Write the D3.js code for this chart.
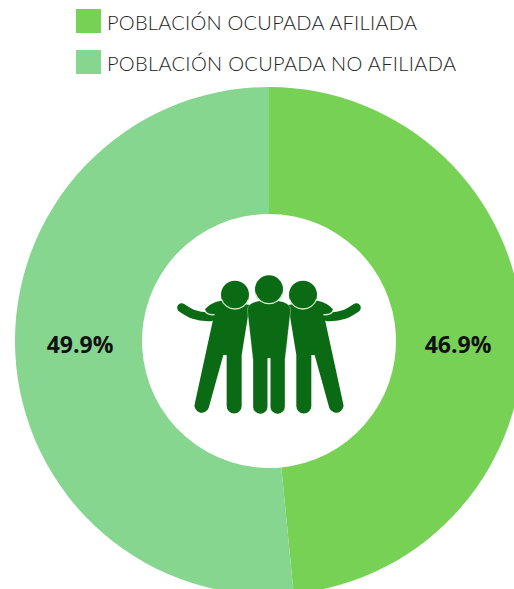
<!DOCTYPE html>
<html>
<head>
<meta charset="utf-8">
<script src="https://cdn.jsdelivr.net/npm/d3@7"></script>
<style>
  html, body { margin: 0; padding: 0; background: #fff; overflow: hidden; }
  svg { display: block; }
</style>
</head>
<body>
<div id="chart"></div>
<script>
const categories = ['POBLACIÓN OCUPADA AFILIADA', 'POBLACIÓN OCUPADA NO AFILIADA']
const values = [46.9, 49.9]
const labels = ['46.9%', '49.9%']
const colors = ['#77d155', '#86d68f']
const iconColor = '#0b6a14'

const svg = d3.select('#chart')
  .append('svg')
    .attr('width', 514)
    .attr('height', 589)

const pie = d3.pie().sort(null)
const arc = d3.arc().innerRadius(127).outerRadius(254)

const donut = svg.append('g')
  .attr('id', 'donut')
  .attr('transform', 'translate(269, 341)')

donut.selectAll('path')
  .data(pie(values))
  .enter()
  .append('path')
    .attr('d', arc)
    .style('fill', (d, i) => colors[i])

// labels sit at a fixed radius, level with the centre
donut.selectAll('text')
  .data(pie(values))
  .enter()
  .append('text')
    .attr('x', (d, i) => i === 0 ? 189 : -189)
    .attr('y', 12)
    .attr('text-anchor', 'middle')
    .style('font', 'bold 23px "Open Sans"')
    .style('fill', '#111')
    .text((d, i) => labels[i])

// legend
const legend = svg.append('g').attr('id', 'legend')
const rows = legend.selectAll('g')
  .data(categories)
  .enter()
  .append('g')
    .attr('transform', (d, i) => `translate(76, ${9 + i * 41})`)

rows.append('rect')
  .attr('width', 25)
  .attr('height', 24)
  .style('fill', (d, i) => colors[i])

rows.append('text')
  .attr('x', 31)
  .attr('y', 21)
  .style('font', '300 20px Lato')
  .style('fill', '#222')
  .attr('textLength', (d, i) => i === 0 ? 310 : 349)
  .attr('lengthAdjust', 'spacing')
  .text(d => d)

// people icon, drawn in the 3x units of the crop I measured it on
const icon = svg.append('g')
  .attr('id', 'icon')
  .attr('transform', 'translate(160, 260) scale(0.3333)')

const sideBody = 'M160,175 L105,428 A21,21 0 0 0 146,444 L190,285 L200,285 L200,438 A22.5,22.5 0 0 0 245,438 L245,285 L264,168 L270,135 L182,122 Q150,128 135,148 Q140,165 160,165 Z'
const sideArm = 'M65,143 C90,160 110,172 152,170'
const midBody = 'M262,150 Q262,128 300,122 L354,122 Q392,128 392,150 L375,300 L375,440 A22,22 0 0 1 331,440 L331,295 L323,295 L323,440 A22,22 0 0 1 279,440 L279,300 Z'

// the two outer figures are one shape, the right one mirrored around the middle figure
const sides = icon.selectAll('g.side')
  .data(['translate(0, 0)', 'translate(654, 0) scale(-1, 1)'])
  .enter()
  .append('g')
    .attr('class', 'side')
    .attr('transform', d => d)

sides.append('path')
  .attr('d', sideBody)
  .style('fill', iconColor)

sides.append('path')
  .attr('d', sideArm)
  .style('fill', 'none')
  .style('stroke', iconColor)
  .style('stroke-width', 27)
  .style('stroke-linecap', 'round')

// pale line between the arm and the shoulder
sides.append('path')
  .attr('d', 'M136,156 Q146,166 164,164')
  .style('fill', 'none')
  .style('stroke', '#cfe8c8')
  .style('stroke-width', 4)

icon.append('path')
  .attr('d', midBody)
  .style('fill', iconColor)
  .style('stroke', '#fff')
  .style('stroke-width', 1)

const heads = [[225, 104], [429, 104], [327, 88]]

icon.selectAll('circle')
  .data(heads)
  .enter()
  .append('circle')
    .attr('cx', d => d[0])
    .attr('cy', d => d[1])
    .attr('r', 42)
    .style('fill', iconColor)

// the pale ring only shows under the chin, where a head meets the body
const chin = d3.arc()
  .innerRadius(41)
  .outerRadius(45)
  .startAngle(Math.PI * 0.6)
  .endAngle(Math.PI * 1.4)

icon.selectAll('path.chin')
  .data(heads)
  .enter()
  .append('path')
    .attr('class', 'chin')
    .attr('d', chin())
    .attr('transform', d => `translate(${d[0]}, ${d[1]})`)
    .style('fill', '#cfe8c8')
</script>
</body>
</html>
